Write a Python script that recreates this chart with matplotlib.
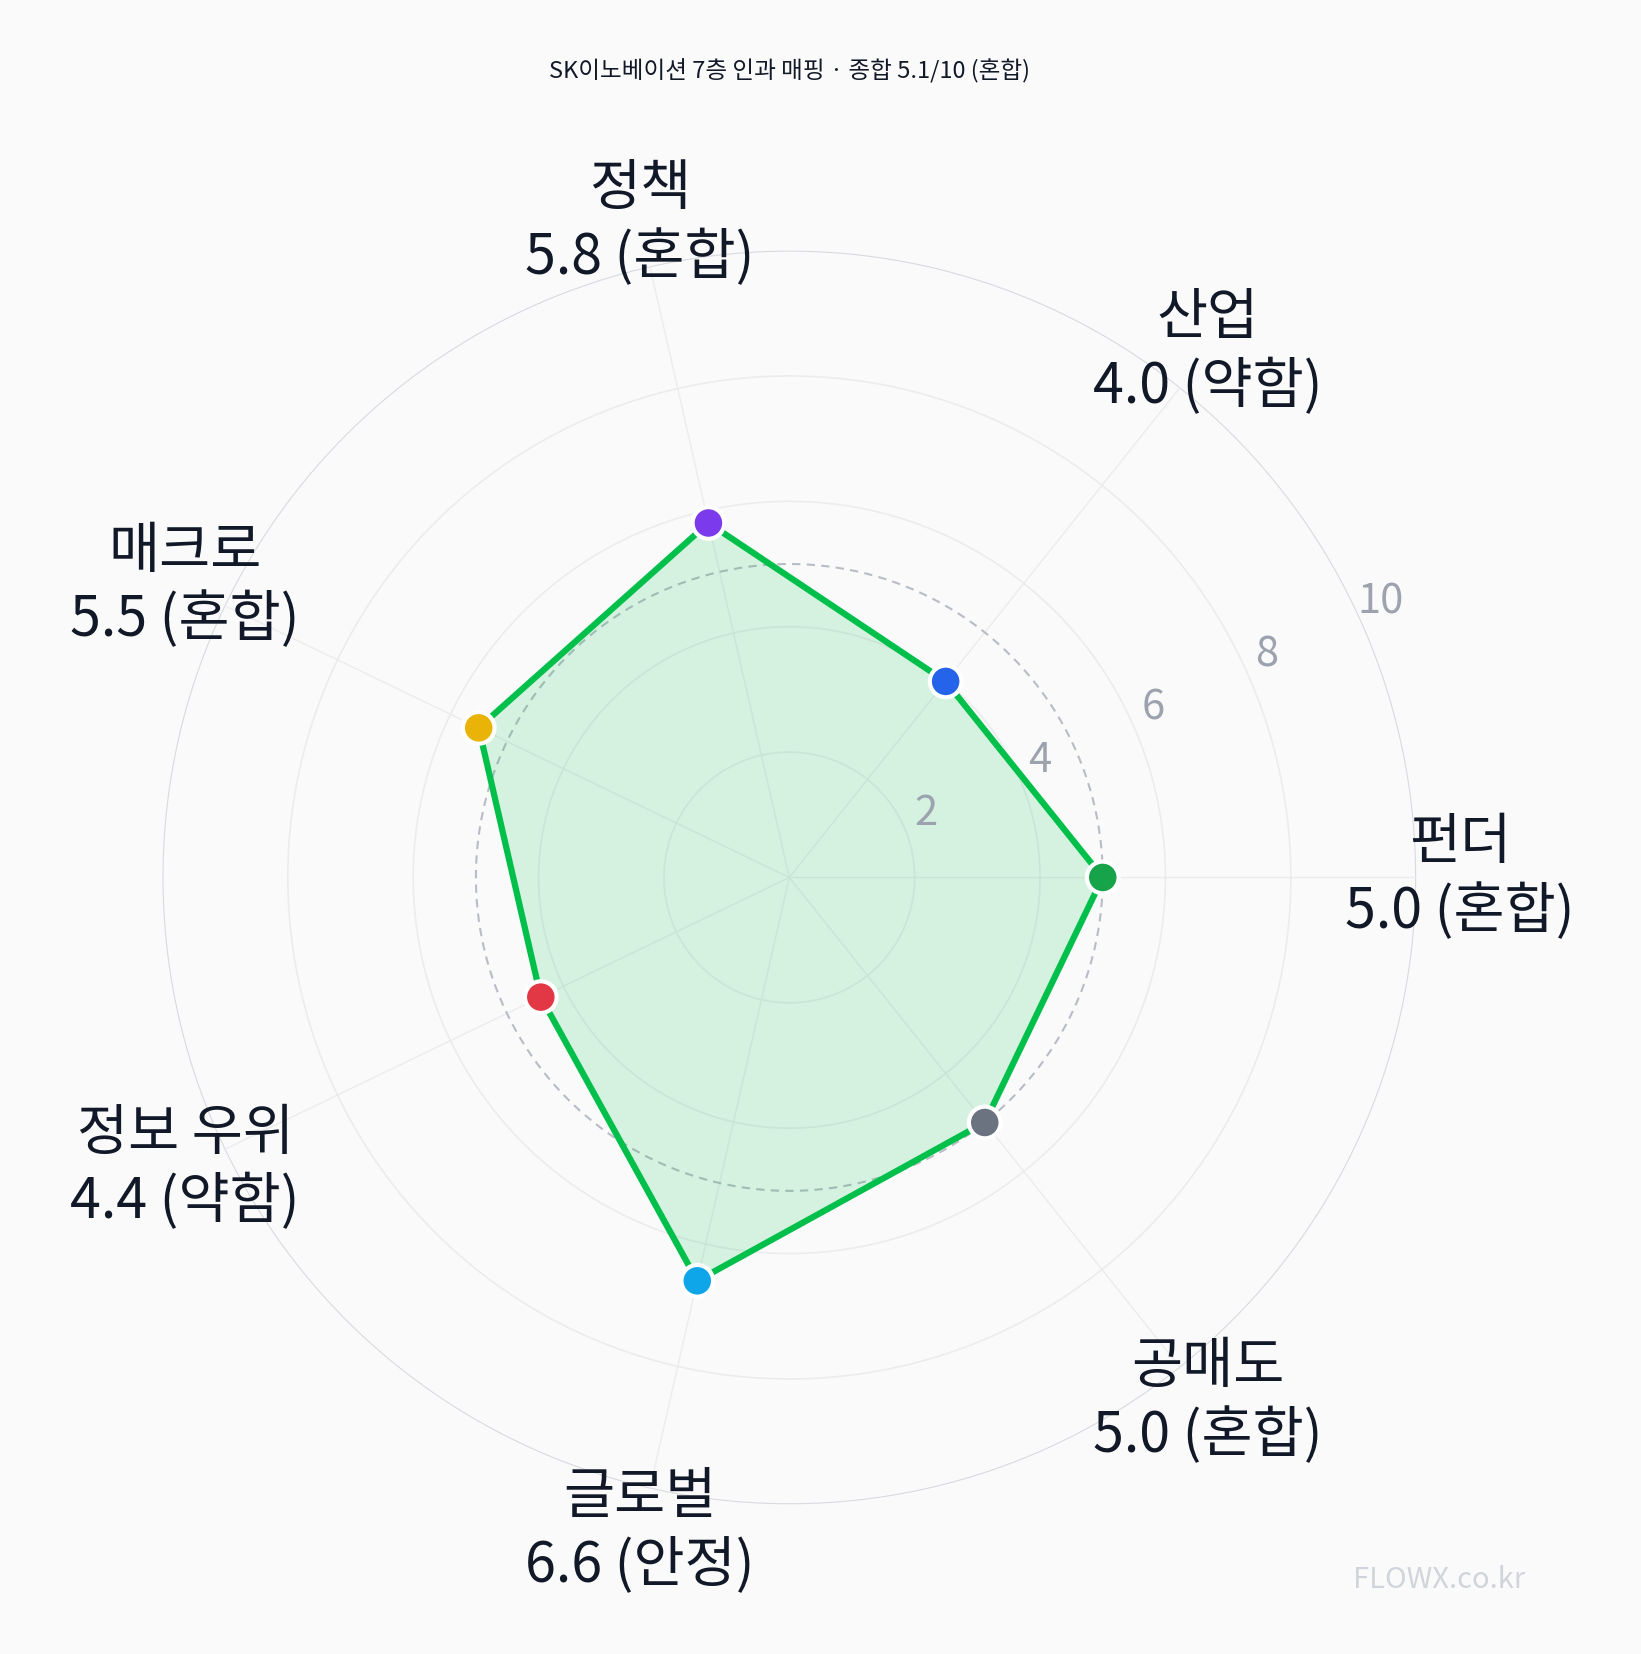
import numpy as np
import matplotlib
matplotlib.use("Agg")
import matplotlib.pyplot as plt

plt.rcParams['font.family'] = ['Noto Sans CJK KR', 'DejaVu Sans']

categories = ['펀더', '산업', '정책', '매크로', '정보 우위', '글로벌', '공매도']
values = [5.0, 4.0, 5.8, 5.5, 4.4, 6.6, 5.0]
grades = ['혼합', '약함', '혼합', '혼합', '약함', '안정', '혼합']
dot_colors = ['#16a34a', '#2563eb', '#7c3aed', '#eab308', '#e23744', '#0ea5e9', '#6b7280']
ring_ticks = [2, 4, 6, 8, 10]

bg = '#fafafa'
fig = plt.figure(figsize=(16.41, 16.54), dpi=100, facecolor=bg)
ax = fig.add_axes([0.099, 0.090, 0.764, 0.759], projection='polar', facecolor=bg)

n = len(categories)
angles = np.arange(n) * 2 * np.pi / n
theta = np.linspace(0, 2 * np.pi, 400)

# grid rings and spokes
for r in ring_ticks:
    ax.plot(theta, np.full_like(theta, r), color='#d8dae0' if r == 10 else '#ececef',
            lw=1.6 if r == 10 else 1.2, zorder=1)
for a in angles:
    ax.plot([a, a], [0, 10], color='#ececef', lw=1.0, zorder=1)
ax.plot(theta, np.full_like(theta, 5), color='#b8bcc6', lw=1.5, ls=(0, (4, 3)), zorder=2)

closed_a = np.append(angles, angles[0])
closed_v = np.append(values, values[0])
ax.fill(closed_a, closed_v, color='#22c55e', alpha=0.17, lw=0, zorder=3)
ax.plot(closed_a, closed_v, color='#00c04b', lw=4.5, zorder=4)
ax.scatter(angles, values, s=520, c=dot_colors, edgecolors='white', linewidths=3, zorder=5)

for r in ring_ticks:
    ax.text(np.deg2rad(25), r + 0.4, str(r), fontsize=30, color='#9ca3af',
            ha='center', va='center', zorder=6)

for a, c, v, g in zip(angles, categories, values, grades):
    ax.text(a, 10.7, f'{c}\n{v:.1f} ({g})', fontsize=40, color='#111827',
            ha='center', va='center', linespacing=1.25, zorder=6)

ax.set_ylim(0, 10)
ax.set_xticks([])
ax.set_yticks([])
ax.grid(False)
ax.spines['polar'].set_visible(False)

fig.text(0.481, 0.957, 'SK이노베이션 7층 인과 매핑 · 종합 5.1/10 (혼합)', fontsize=17,
         color='#111827', ha='center', va='center')
fig.text(0.877, 0.045, 'FLOWX.co.kr', fontsize=21, color='#d1d5db', ha='center', va='center')

fig.savefig('out.png', dpi=100, facecolor=bg)
